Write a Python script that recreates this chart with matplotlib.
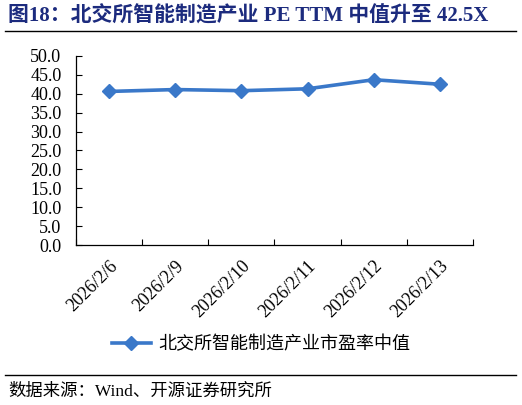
import matplotlib
matplotlib.use("Agg")
import matplotlib.pyplot as plt
from matplotlib.lines import Line2D

plt.rcParams["font.family"] = ["Liberation Serif", "Noto Sans CJK SC"]

# 数据
dates = ["2026/2/6", "2026/2/9", "2026/2/10", "2026/2/11", "2026/2/12", "2026/2/13"]
pe_median = [40.6, 41.1, 40.8, 41.3, 43.7, 42.5]
series_name = "北交所智能制造产业市盈率中值"
title = "图18：北交所智能制造产业 PE TTM 中值升至 42.5X"
source = "数据来源：Wind、开源证券研究所"

line_color = "#3A78C9"
title_color = "#1C2B7E"

fig = plt.figure(figsize=(5.22, 4.05), dpi=100)
ax = fig.add_axes([0.1456, 0.395, 0.7605, 0.467])

x = list(range(len(dates)))
ax.plot(x, pe_median, color=line_color, lw=2.6, marker="D", markersize=7,
        markerfacecolor=line_color, markeredgecolor=line_color)

ax.set_xlim(-0.5, len(dates) - 0.5)
ax.set_ylim(0, 50)
ax.set_yticks([i * 5 for i in range(11)])
ax.set_yticklabels([f"{i * 5:.1f}" for i in range(11)], fontsize=13)

# 类别轴：刻度在类别之间
ax.set_xticks([i - 0.5 for i in range(len(dates) + 1)])
ax.set_xticklabels([])
ax.set_xticks(x, minor=True)
ax.set_xticklabels(dates, minor=True, rotation=45, ha="right",
                   rotation_mode="anchor", fontsize=13)
ax.tick_params(axis="x", which="minor", length=0, pad=9)
ax.tick_params(axis="x", which="major", direction="in", length=4, width=0.8)
ax.tick_params(axis="y", direction="in", length=4, width=0.8, pad=10.5)

for s in ["top", "right"]:
    ax.spines[s].set_visible(False)
ax.spines["left"].set_linewidth(0.9)
ax.spines["bottom"].set_linewidth(0.9)

# 图例
handle = Line2D([], [], color=line_color, lw=2.6, marker="D", markersize=7)
fig.legend([handle], [series_name], loc="center", bbox_to_anchor=(0.5, 1 - 344 / 405),
           frameon=False, handlelength=2.2, handletextpad=0.4,
           prop={"family": ["Noto Sans CJK SC"], "size": 13})

# 标题与来源
fig.text(8 / 522, 1 - 16 / 405, title, fontsize=15, fontweight="bold",
         color=title_color, va="center", ha="left")
fig.add_artist(Line2D([5 / 522, 516 / 522], [1 - 31 / 405, 1 - 31 / 405],
                      color="black", lw=1.0))
fig.add_artist(Line2D([5 / 522, 516 / 522], [1 - 375 / 405, 1 - 375 / 405],
                      color="black", lw=1.0))
fig.text(8 / 522, 1 - 392 / 405, source, fontsize=12.5, va="center", ha="left",
         family=["Liberation Serif", "Noto Sans CJK SC"])

fig.savefig("out.png", dpi=100)
